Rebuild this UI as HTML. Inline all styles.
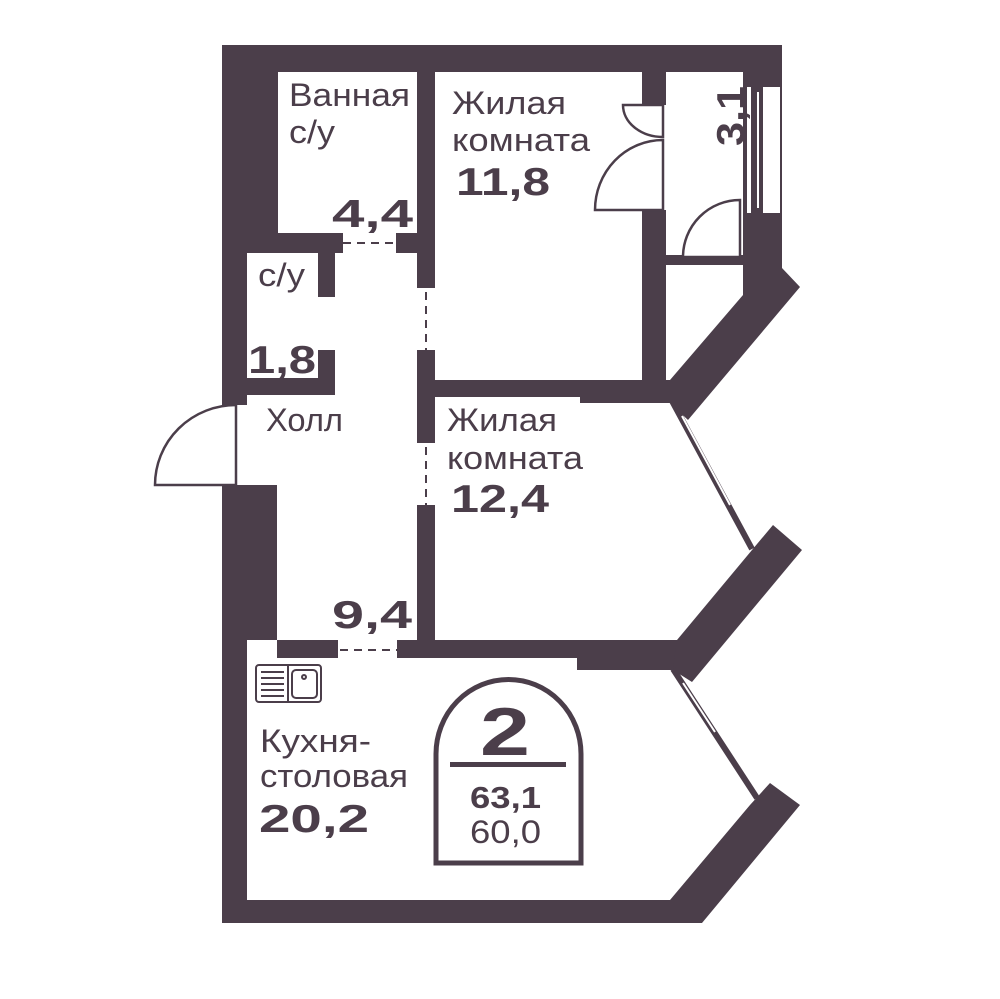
<!DOCTYPE html>
<html><head><meta charset="utf-8"><style>
html,body{margin:0;padding:0;background:#fff;}
svg{display:block;}
text{font-family:"Liberation Sans","DejaVu Sans",sans-serif;fill:#4b3e4a;}
.l{font-size:32px;font-weight:normal;}
.b{font-size:39px;font-weight:bold;}
</style></head><body>
<svg width="1000" height="999" viewBox="0 0 1000 999" xmlns="http://www.w3.org/2000/svg">
<g fill="#4b3e4a">
<rect x="222" y="45" width="560" height="27"/>
<rect x="222" y="72" width="56" height="161"/>
<rect x="222" y="233" width="25" height="172"/>
<rect x="222" y="233" width="121" height="20"/>
<rect x="396" y="233" width="39" height="20"/>
<rect x="417" y="45" width="18" height="243"/>
<rect x="417" y="350" width="18" height="93"/>
<rect x="417" y="505" width="18" height="153"/>
<rect x="318" y="253" width="17" height="44"/>
<rect x="318" y="350" width="17" height="45"/>
<rect x="222" y="378" width="113" height="17"/>
<rect x="222" y="485" width="55" height="155"/>
<rect x="222" y="640" width="25" height="283"/>
<rect x="277" y="640" width="61" height="18"/>
<rect x="397" y="640" width="183" height="18"/>
<rect x="577" y="640" width="100" height="30"/>
<rect x="417" y="380" width="163" height="17"/>
<rect x="580" y="380" width="90" height="23"/>
<rect x="642" y="45" width="24" height="60"/>
<rect x="642" y="210" width="24" height="170"/>
<rect x="666" y="255" width="79" height="10"/>
<rect x="743" y="45" width="39" height="225"/>
<polygon points="743,268 782,268 800,287 688,420 670,403 670,380 743,295"/>
<polygon points="752,550 773,525 802,550 692,682 673,670 677,640"/>
<polygon points="750,805 770,783 800,805 702,923 222,923 222,900 670,900"/>
</g>
<rect x="747" y="87" width="4" height="126" fill="#fff"/>
<rect x="757" y="92" width="2" height="116" fill="#fff"/>
<rect x="763" y="87" width="17" height="126" fill="#fff"/>
<g stroke="#4b3e4a" stroke-width="6" fill="none">
<line x1="672" y1="401" x2="752" y2="549"/>
<line x1="673" y1="669" x2="757" y2="798"/>
</g>
<g stroke="#fff" stroke-width="2" fill="none">
<line x1="682" y1="416" x2="730" y2="505"/>
<line x1="683" y1="683" x2="715" y2="732"/>
</g>
<g stroke="#4b3e4a" stroke-width="2" stroke-dasharray="8,6" fill="none">
<line x1="343" y1="243" x2="396" y2="243"/>
<line x1="426" y1="292" x2="426" y2="350"/>
<line x1="426" y1="447" x2="426" y2="505"/>
<line x1="340" y1="650" x2="397" y2="650"/>
</g>
<g stroke="#4b3e4a" stroke-width="2.5" fill="#fff">
<path d="M236,405 V485 H155 A81,80 0 0 1 236,405 Z"/>
<path d="M663,105 H623 A40,32 0 0 0 663,137 Z"/>
<path d="M663,140 V210 H595 A68,70 0 0 1 663,140 Z"/>
<path d="M740,200 V257 H683 A57,57 0 0 1 740,200 Z"/>
</g>
<g stroke="#4b3e4a" stroke-width="2" fill="none">
<rect x="256" y="665" width="65" height="37" rx="3"/>
<line x1="288" y1="665" x2="288" y2="702"/>
<rect x="292" y="670" width="25" height="28" rx="4"/>
<circle cx="304" cy="677" r="2"/>
<line x1="261" y1="672" x2="284" y2="672"/>
<line x1="261" y1="678" x2="284" y2="678"/>
<line x1="261" y1="684" x2="284" y2="684"/>
<line x1="261" y1="690" x2="284" y2="690"/>
<line x1="261" y1="696" x2="284" y2="696"/>
</g>
<path d="M436,863 V754 A72,74 0 0 1 581,754 V863 Z" fill="none" stroke="#4b3e4a" stroke-width="5"/>
<rect x="450" y="762" width="116" height="5" fill="#4b3e4a"/>
<text x="480" y="755" textLength="50" lengthAdjust="spacingAndGlyphs" style="font-size:68px;font-weight:bold">2</text>
<text x="470" y="808" textLength="71" lengthAdjust="spacingAndGlyphs" style="font-size:31px;font-weight:bold">63,1</text>
<text x="470" y="843" textLength="71" lengthAdjust="spacingAndGlyphs" style="font-size:32px">60,0</text>
<text class="l" x="289" y="106" textLength="121" lengthAdjust="spacingAndGlyphs">Ванная</text>
<text class="l" x="289" y="143" textLength="46" lengthAdjust="spacingAndGlyphs">с/у</text>
<text class="b" x="332" y="227" textLength="81" lengthAdjust="spacingAndGlyphs">4,4</text>
<text class="l" x="452" y="114" textLength="114" lengthAdjust="spacingAndGlyphs">Жилая</text>
<text class="l" x="452" y="151" textLength="138" lengthAdjust="spacingAndGlyphs">комната</text>
<text class="b" x="456" y="195" textLength="94" lengthAdjust="spacingAndGlyphs">11,8</text>
<text class="b" transform="translate(744,146) rotate(-90)" textLength="60" lengthAdjust="spacingAndGlyphs">3,1</text>
<text class="l" x="258" y="286" textLength="47" lengthAdjust="spacingAndGlyphs">с/у</text>
<text class="b" x="248" y="373" textLength="68" lengthAdjust="spacingAndGlyphs">1,8</text>
<text class="l" x="266" y="431" textLength="77" lengthAdjust="spacingAndGlyphs">Холл</text>
<text class="l" x="447" y="431" textLength="110" lengthAdjust="spacingAndGlyphs">Жилая</text>
<text class="l" x="447" y="469" textLength="136" lengthAdjust="spacingAndGlyphs">комната</text>
<text class="b" x="451" y="512" textLength="98" lengthAdjust="spacingAndGlyphs">12,4</text>
<text class="b" x="332" y="628" textLength="80" lengthAdjust="spacingAndGlyphs">9,4</text>
<text class="l" x="260" y="752" textLength="111" lengthAdjust="spacingAndGlyphs">Кухня-</text>
<text class="l" x="260" y="787" textLength="148" lengthAdjust="spacingAndGlyphs">столовая</text>
<text class="b" x="259" y="832" textLength="110" lengthAdjust="spacingAndGlyphs">20,2</text>
</svg>
</body></html>
